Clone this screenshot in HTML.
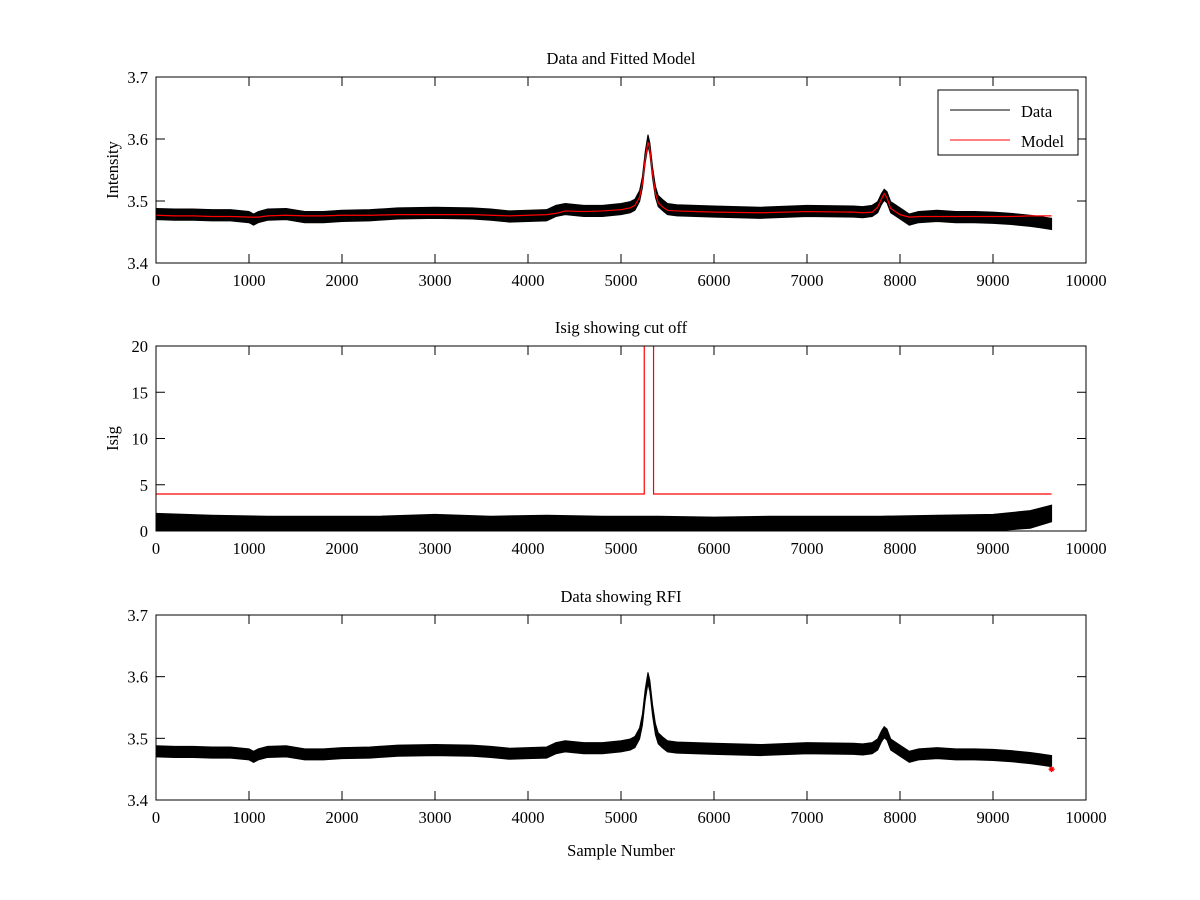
<!DOCTYPE html>
<html><head><meta charset="utf-8"><style>
body{margin:0;background:#fff;}
svg{display:block;font-family:"Liberation Serif",serif;}
text{font-size:16.5px;fill:#000;}
</style></head><body>
<svg id="fig" width="1200" height="900"></svg>
<script>
const samples=[0,200,400,600,800,1000,1050,1100,1200,1400,1600,1800,2000,2300,2600,3000,3400,3600,3800,4000,4200,4300,4400,4600,4800,5000,5100,5150,5200,5230,5260,5290,5310,5340,5370,5400,5450,5500,5600,6000,6500,7000,7500,7600,7700,7760,7800,7830,7860,7900,7950,8000,8100,8200,8400,8600,8800,9000,9200,9400,9500,9630];
const dataMean=[3.479,3.478,3.478,3.477,3.477,3.474,3.470,3.474,3.478,3.479,3.474,3.474,3.476,3.477,3.480,3.481,3.480,3.478,3.475,3.476,3.477,3.484,3.487,3.484,3.484,3.487,3.490,3.494,3.508,3.530,3.570,3.598,3.585,3.545,3.515,3.500,3.493,3.487,3.485,3.483,3.481,3.484,3.483,3.482,3.484,3.490,3.503,3.510,3.506,3.490,3.485,3.480,3.470,3.474,3.476,3.474,3.474,3.473,3.471,3.468,3.466,3.463];
const modelValues=[3.477,3.476,3.476,3.475,3.475,3.474,3.474,3.474,3.476,3.477,3.476,3.476,3.477,3.477,3.478,3.478,3.478,3.477,3.476,3.477,3.478,3.480,3.484,3.483,3.484,3.486,3.489,3.493,3.506,3.528,3.568,3.595,3.583,3.543,3.513,3.497,3.490,3.485,3.484,3.482,3.481,3.483,3.482,3.481,3.482,3.490,3.503,3.512,3.505,3.488,3.483,3.478,3.474,3.475,3.475,3.475,3.475,3.475,3.475,3.476,3.476,3.476];
const noiseHalfWidth=0.009;
const isigSamples=[0,600,1200,1800,2400,3000,3600,4200,4800,5400,6000,6600,7200,7800,8400,9000,9400,9630];
const isigUpper=[1.9,1.7,1.6,1.6,1.6,1.8,1.6,1.7,1.6,1.6,1.5,1.6,1.6,1.6,1.7,1.8,2.2,2.8];
const isigLower=[0,0,0,0,0,0,0,0,0,0,0,0,0,0,0,0,0.3,1.0];
const cutoffSamples=[0,5250,5250,5350,5350,9630];
const cutoffValues=[4,4,25,25,4,4];
const rfiSamples=[9630];
const rfiValues=[3.45];
const xTicks=[0,1000,2000,3000,4000,5000,6000,7000,8000,9000,10000];
const yTicksIntensity=[3.4,3.5,3.6,3.7];
const yTicksIsig=[0,5,10,15,20];

const NS="http://www.w3.org/2000/svg";
const svg=document.getElementById('fig');
function el(tag,attrs,parent){const e=document.createElementNS(NS,tag);for(const k in attrs)e.setAttribute(k,attrs[k]);(parent||svg).appendChild(e);return e;}
const X0=156,X1=1086;
const xs=v=>X0+(v/10000)*(X1-X0);

function panel(name,top,bottom,ymin,ymax,yticks,title,ylabel,xlabel){
  const g=el('g',{});
  
  
  const ys=v=>bottom-(v-ymin)/(ymax-ymin)*(bottom-top);
  const clipId='clip-'+name;
  const cp=el('clipPath',{id:clipId},g);el('rect',{x:X0,y:top,width:X1-X0,height:bottom-top},cp);
  const plot=el('g',{'clip-path':'url(#'+clipId+')'},g);
  
  
  const fr=el('rect',{x:X0,y:top,width:X1-X0,height:bottom-top,fill:'none',stroke:'#000','stroke-width':1},g);
  
  
  xTicks.forEach(t=>{const x=xs(t);
    el('line',{x1:x,x2:x,y1:bottom,y2:bottom-9,stroke:'#000'},g);
    el('line',{x1:x,x2:x,y1:top,y2:top+9,stroke:'#000'},g);
    const tx=el('text',{x:x,y:bottom+23,'text-anchor':'middle'},g);tx.textContent=t;
    
    
  });
  yticks.forEach(t=>{const y=ys(t);
    el('line',{x1:X0,x2:X0+9,y1:y,y2:y,stroke:'#000'},g);
    el('line',{x1:X1,x2:X1-9,y1:y,y2:y,stroke:'#000'},g);
    const tx=el('text',{x:X0-8,y:y+6,'text-anchor':'end'},g);tx.textContent=String(t);
    
    
  });
  const tt=el('text',{x:(X0+X1)/2,y:top-13,'text-anchor':'middle'},g);tt.textContent=title;
  
  
  if(ylabel){const yl=el('text',{x:0,y:0,'text-anchor':'middle',transform:`translate(${X0-38},${(top+bottom)/2}) rotate(-90)`},g);yl.textContent=ylabel;
    
    }
  if(xlabel){const xl=el('text',{x:(X0+X1)/2,y:bottom+56,'text-anchor':'middle'},g);xl.textContent=xlabel;
    
    }
  return {plot,ys,g};
}
function band(parent,sx,lo,hi,ys,name){
  let d='M'+sx.map((s,i)=>xs(s)+','+ys(hi[i])).join('L');
  for(let i=sx.length-1;i>=0;i--)d+='L'+xs(sx[i])+','+ys(lo[i]);
  const p=el('path',{d:d+'Z',fill:'#000',stroke:'#000','stroke-width':1},parent);
  
  
}
function line(parent,sx,vals,ys,color,name){
  const p=el('polyline',{points:sx.map((s,i)=>xs(s)+','+ys(vals[i])).join(' '),fill:'none',stroke:color,'stroke-width':1.2},parent);
  
  
}
const hiArr=dataMean.map(v=>v+noiseHalfWidth), loArr=dataMean.map(v=>v-noiseHalfWidth);

// Panel 1
const p1=panel('fitted-model-panel',77,263,3.4,3.7,yTicksIntensity,'Data and Fitted Model','Intensity',null);
band(p1.plot,samples,loArr,hiArr,p1.ys,'data-band');
line(p1.plot,samples,dataMean,p1.ys,'#000','data-line');
line(p1.plot,samples,modelValues,p1.ys,'#f00','model-line');
const lg=el('g',{},p1.g);


el('rect',{x:938,y:90,width:140,height:65,fill:'#fff',stroke:'#000'},lg);
el('line',{x1:950,x2:1010,y1:110,y2:110,stroke:'#000'},lg);
el('line',{x1:950,x2:1010,y1:140,y2:140,stroke:'#f00'},lg);
const l1=el('text',{x:1021,y:117},lg);l1.textContent='Data';


const l2=el('text',{x:1021,y:147},lg);l2.textContent='Model';



// Panel 2
const p2=panel('isig-panel',346,531,0,20,yTicksIsig,'Isig showing cut off','Isig',null);
band(p2.plot,isigSamples,isigLower,isigUpper,p2.ys,'isig-band');
line(p2.plot,cutoffSamples,cutoffValues,p2.ys,'#f00','cutoff-line');

// Panel 3
const p3=panel('rfi-panel',615,800,3.4,3.7,yTicksIntensity,'Data showing RFI',null,'Sample Number');
band(p3.plot,samples,loArr,hiArr,p3.ys,'rfi-data-band');
line(p3.plot,samples,dataMean,p3.ys,'#000','rfi-data-line');
rfiSamples.forEach((s,i)=>{
  const cx=xs(s), cy=p3.ys(rfiValues[i]);
  const m=el('path',{d:`M${cx-3},${cy}H${cx+3}M${cx},${cy-3}V${cy+3}M${cx-2},${cy-2}L${cx+2},${cy+2}M${cx-2},${cy+2}L${cx+2},${cy-2}`,stroke:'#f00','stroke-width':1.3,fill:'none'},p3.g);
  
  
});
</script>
</body></html>
